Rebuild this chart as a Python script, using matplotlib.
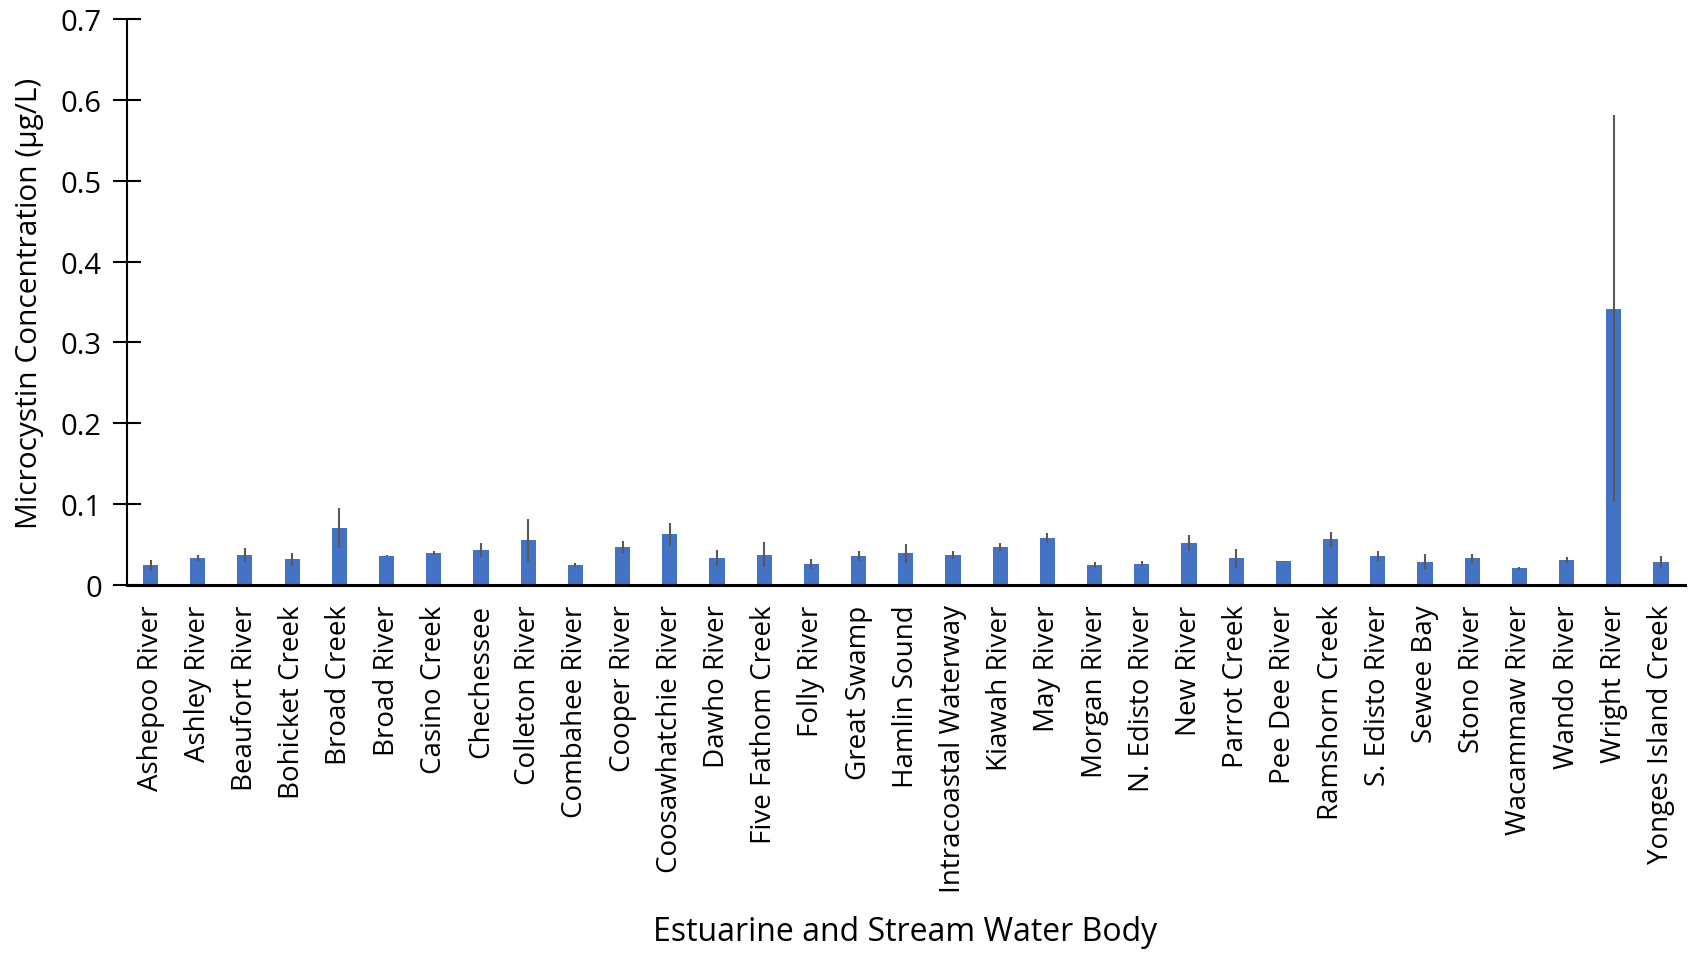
import matplotlib

matplotlib.use("Agg")
import matplotlib.pyplot as plt

plt.rcParams["font.family"] = ["Open Sans", "DejaVu Sans"]

# Mean microcystin per water body, with standard error
water_bodies = [
    "Ashepoo River", "Ashley River", "Beaufort River", "Bohicket Creek",
    "Broad Creek", "Broad River", "Casino Creek", "Chechessee",
    "Colleton River", "Combahee River", "Cooper River", "Coosawhatchie River",
    "Dawho River", "Five Fathom Creek", "Folly River", "Great Swamp",
    "Hamlin Sound", "Intracoastal Waterway", "Kiawah River", "May River",
    "Morgan River", "N. Edisto River", "New River", "Parrot Creek",
    "Pee Dee River", "Ramshorn Creek", "S. Edisto River", "Sewee Bay",
    "Stono River", "Wacammaw River", "Wando River", "Wright River",
    "Yonges Island Creek",
]
mean_conc = [
    0.0243, 0.0333, 0.0374, 0.0317, 0.0704, 0.0362, 0.0395, 0.0432,
    0.0556, 0.0247, 0.0469, 0.0626, 0.0333, 0.0374, 0.0263, 0.0362,
    0.0391, 0.0374, 0.0469, 0.0580, 0.0247, 0.0263, 0.0519, 0.0329,
    0.0292, 0.0564, 0.0362, 0.0288, 0.0329, 0.0206, 0.0309, 0.3420,
    0.0288,
]
std_err = [
    0.0068, 0.0033, 0.0086, 0.0084, 0.0247, 0.0005, 0.0020, 0.0082,
    0.0265, 0.0022, 0.0076, 0.0144, 0.0095, 0.0154, 0.0064, 0.0062,
    0.0117, 0.0051, 0.0051, 0.0062, 0.0033, 0.0033, 0.0103, 0.0115,
    0.0008, 0.0093, 0.0060, 0.0093, 0.0058, 0.0023, 0.0035, 0.2387,
    0.0072,
]
y_ticks = [0, 0.1, 0.2, 0.3, 0.4, 0.5, 0.6, 0.7]
y_tick_labels = ["0", "0.1", "0.2", "0.3", "0.4", "0.5", "0.6", "0.7"]

fig = plt.figure(figsize=(16.88, 9.54), dpi=100)
ax = fig.add_axes([0.0752, 0.3857, 0.9228, 0.5933])

x = range(len(water_bodies))
ax.bar(x, mean_conc, width=0.32, color="#4472C4", zorder=2)
ax.errorbar(x, mean_conc, yerr=std_err, fmt="none", ecolor="#595959",
            elinewidth=1.5, capsize=0, zorder=3)

ax.set_xlim(-0.5, len(water_bodies) - 0.5)
ax.set_ylim(0, 0.7)
ax.set_xticks(list(x))
ax.set_xticklabels(water_bodies, rotation=90, fontsize=20)
ax.set_yticks(y_ticks)
ax.set_yticklabels(y_tick_labels, fontsize=21)
ax.tick_params(axis="x", length=0, pad=14)
ax.tick_params(axis="y", direction="inout", length=20, width=1.5, pad=8)

for side in ("top", "right"):
    ax.spines[side].set_visible(False)
ax.spines["left"].set_linewidth(1.5)
ax.spines["bottom"].set_linewidth(2.2)

ax.set_ylabel("Microcystin Concentration (µg/L)", fontsize=21.5)
ax.yaxis.set_label_coords(-0.053, 0.5)
fig.text(0.536, 0.023, "Estuarine and Stream Water Body", ha="center",
         va="center", fontsize=23)

fig.savefig("out.png", dpi=100)
